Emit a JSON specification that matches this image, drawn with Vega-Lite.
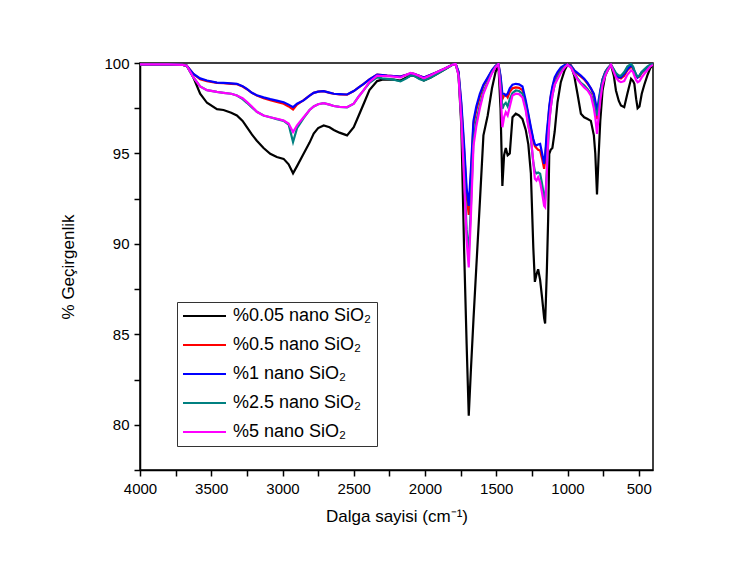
{
  "$schema": "https://vega.github.io/schema/vega-lite/v6.json",
  "width": 513,
  "height": 407,
  "autosize": "none",
  "padding": {"left": 140, "top": 63, "right": 89, "bottom": 93},
  "background": "white",
  "config": {
    "font": "Liberation Sans",
    "view": {"stroke": "black", "strokeWidth": 1.5},
    "axis": {"grid": false, "labelFlush": false, "labelOverlap": false, "domainColor": "black", "domainWidth": 1.5, "tickColor": "black", "tickWidth": 1.5, "tickSize": 6, "labelColor": "black", "labelFontSize": 15, "labelFont": "Liberation Sans", "titleFont": "Liberation Sans", "titleFontSize": 17, "titleFontWeight": "normal", "titleColor": "black"}
  },
  "data": {"values": [
    {"w":4000,"a":99.92,"b":99.92,"c":99.92,"d":99.92,"e":99.92},
    {"w":3800,"a":99.92,"b":99.92,"c":99.92,"d":99.92,"e":99.92},
    {"w":3700,"a":99.9,"b":99.9,"c":99.9,"d":99.9,"e":99.9},
    {"w":3672,"a":99.85,"b":99.85,"c":99.85,"d":99.85,"e":99.85},
    {"w":3625,"a":99.2,"b":99.4,"c":99.4,"d":99.2,"e":99.2},
    {"w":3578,"a":98.3,"b":99.1,"c":99.15,"d":98.7,"e":98.7},
    {"w":3530,"a":97.8,"b":99.0,"c":99.03,"d":98.5,"e":98.5},
    {"w":3460,"a":97.45,"b":98.9,"c":98.92,"d":98.4,"e":98.4},
    {"w":3414,"a":97.4,"b":98.88,"c":98.9,"d":98.35,"e":98.35},
    {"w":3360,"a":97.25,"b":98.85,"c":98.87,"d":98.3,"e":98.3},
    {"w":3320,"a":97.1,"b":98.83,"c":98.85,"d":98.2,"e":98.2},
    {"w":3280,"a":96.8,"b":98.7,"c":98.72,"d":98.0,"e":98.05},
    {"w":3250,"a":96.45,"b":98.55,"c":98.57,"d":97.8,"e":97.85},
    {"w":3215,"a":96.05,"b":98.35,"c":98.35,"d":97.55,"e":97.6},
    {"w":3180,"a":95.7,"b":98.2,"c":98.22,"d":97.3,"e":97.3},
    {"w":3133,"a":95.3,"b":98.05,"c":98.1,"d":97.1,"e":97.1},
    {"w":3086,"a":94.98,"b":97.95,"c":98.0,"d":97.0,"e":97.0},
    {"w":3040,"a":94.8,"b":97.85,"c":97.92,"d":96.9,"e":96.92},
    {"w":2992,"a":94.7,"b":97.75,"c":97.83,"d":96.8,"e":96.82},
    {"w":2957,"a":94.4,"b":97.6,"c":97.7,"d":96.6,"e":96.65},
    {"w":2926,"a":93.9,"b":97.43,"c":97.56,"d":95.63,"e":96.18},
    {"w":2898,"a":94.3,"b":97.7,"c":97.75,"d":96.4,"e":96.55},
    {"w":2852,"a":94.98,"b":97.95,"c":97.93,"d":96.95,"e":97.0},
    {"w":2810,"a":95.6,"b":98.2,"c":98.2,"d":97.4,"e":97.4},
    {"w":2781,"a":96.1,"b":98.35,"c":98.35,"d":97.6,"e":97.6},
    {"w":2750,"a":96.4,"b":98.42,"c":98.42,"d":97.72,"e":97.72},
    {"w":2711,"a":96.55,"b":98.44,"c":98.44,"d":97.78,"e":97.78},
    {"w":2670,"a":96.45,"b":98.35,"c":98.36,"d":97.7,"e":97.7},
    {"w":2640,"a":96.3,"b":98.3,"c":98.3,"d":97.62,"e":97.62},
    {"w":2600,"a":96.15,"b":98.27,"c":98.28,"d":97.57,"e":97.57},
    {"w":2547,"a":96.0,"b":98.25,"c":98.26,"d":97.55,"e":97.56},
    {"w":2500,"a":96.45,"b":98.45,"c":98.45,"d":97.75,"e":97.75},
    {"w":2465,"a":97.1,"b":98.65,"c":98.65,"d":98.15,"e":98.15},
    {"w":2430,"a":97.75,"b":98.85,"c":98.85,"d":98.5,"e":98.5},
    {"w":2390,"a":98.5,"b":99.1,"c":99.1,"d":98.9,"e":98.95},
    {"w":2336,"a":99.0,"b":99.36,"c":99.36,"d":99.2,"e":99.3},
    {"w":2300,"a":99.08,"b":99.33,"c":99.33,"d":99.15,"e":99.28},
    {"w":2265,"a":99.1,"b":99.3,"c":99.3,"d":99.12,"e":99.27},
    {"w":2220,"a":99.08,"b":99.28,"c":99.28,"d":99.08,"e":99.25},
    {"w":2172,"a":99.03,"b":99.25,"c":99.25,"d":98.98,"e":99.2},
    {"w":2130,"a":99.2,"b":99.35,"c":99.35,"d":99.15,"e":99.35},
    {"w":2101,"a":99.3,"b":99.42,"c":99.42,"d":99.3,"e":99.45},
    {"w":2078,"a":99.3,"b":99.4,"c":99.4,"d":99.3,"e":99.4},
    {"w":2040,"a":99.15,"b":99.3,"c":99.3,"d":99.12,"e":99.28},
    {"w":2008,"a":99.03,"b":99.2,"c":99.2,"d":99.03,"e":99.15},
    {"w":1960,"a":99.2,"b":99.35,"c":99.35,"d":99.2,"e":99.32},
    {"w":1914,"a":99.4,"b":99.5,"c":99.5,"d":99.4,"e":99.5},
    {"w":1860,"a":99.65,"b":99.7,"c":99.7,"d":99.65,"e":99.7},
    {"w":1808,"a":99.9,"b":99.9,"c":99.9,"d":99.9,"e":99.9},
    {"w":1785,"a":99.95,"b":99.95,"c":99.95,"d":99.95,"e":99.95},
    {"w":1765,"a":99.4,"b":99.5,"c":99.53,"d":99.36,"e":99.32},
    {"w":1745,"a":96.5,"b":97.6,"c":97.8,"d":97.0,"e":96.84},
    {"w":1725,"a":89.5,"b":95.1,"c":95.4,"d":93.85,"e":93.45},
    {"w":1708,"a":84.5,"b":92.7,"c":93.1,"d":90.8,"e":90.2},
    {"w":1693,"a":80.5,"b":91.6,"c":92.1,"d":89.4,"e":88.7},
    {"w":1678,"a":83.0,"b":93.7,"c":94.1,"d":92.05,"e":91.5},
    {"w":1660,"a":85.8,"b":96.6,"c":96.8,"d":95.7,"e":95.4},
    {"w":1640,"a":88.7,"b":97.4,"c":97.6,"d":96.8,"e":96.5},
    {"w":1615,"a":92.3,"b":98.15,"c":98.3,"d":97.67,"e":97.5},
    {"w":1590,"a":96.0,"b":98.74,"c":98.8,"d":98.4,"e":98.3},
    {"w":1560,"a":97.1,"b":99.16,"c":99.2,"d":98.94,"e":98.87},
    {"w":1530,"a":98.6,"b":99.58,"c":99.6,"d":99.47,"e":99.44},
    {"w":1505,"a":99.5,"b":99.83,"c":99.84,"d":99.79,"e":99.77},
    {"w":1485,"a":99.9,"b":99.95,"c":99.96,"d":99.95,"e":99.94},
    {"w":1470,"a":97.5,"b":99.2,"c":99.3,"d":98.9,"e":98.5},
    {"w":1457,"a":93.2,"b":98.0,"c":98.3,"d":97.47,"e":96.45},
    {"w":1445,"a":94.9,"b":98.2,"c":98.3,"d":97.7,"e":97.0},
    {"w":1433,"a":95.3,"b":98.25,"c":98.2,"d":97.8,"e":97.28},
    {"w":1420,"a":94.9,"b":98.1,"c":98.3,"d":97.6,"e":97.1},
    {"w":1405,"a":95.0,"b":98.4,"c":98.6,"d":98.0,"e":97.6},
    {"w":1386,"a":97.0,"b":98.6,"c":98.8,"d":98.35,"e":98.2},
    {"w":1363,"a":97.2,"b":98.65,"c":98.85,"d":98.48,"e":98.3},
    {"w":1340,"a":97.1,"b":98.63,"c":98.82,"d":98.45,"e":98.28},
    {"w":1316,"a":96.9,"b":98.5,"c":98.7,"d":98.3,"e":98.1},
    {"w":1293,"a":96.3,"b":97.8,"c":97.93,"d":97.5,"e":97.37},
    {"w":1275,"a":95.5,"b":97.1,"c":97.2,"d":96.6,"e":96.5},
    {"w":1257,"a":93.9,"b":96.35,"c":96.45,"d":95.8,"e":95.9},
    {"w":1240,"a":89.8,"b":95.7,"c":95.8,"d":94.5,"e":94.5},
    {"w":1229,"a":87.9,"b":95.4,"c":95.5,"d":94.0,"e":93.6},
    {"w":1218,"a":88.3,"b":95.3,"c":95.44,"d":93.9,"e":93.5},
    {"w":1206,"a":88.6,"b":95.2,"c":95.5,"d":93.95,"e":93.69},
    {"w":1192,"a":88.0,"b":95.16,"c":95.53,"d":93.88,"e":93.4},
    {"w":1178,"a":87.0,"b":94.7,"c":95.0,"d":93.3,"e":92.8},
    {"w":1164,"a":85.9,"b":94.15,"c":94.43,"d":92.6,"e":92.1},
    {"w":1157,"a":85.6,"b":94.6,"c":94.9,"d":92.4,"e":92.03},
    {"w":1145,"a":88.5,"b":96.0,"c":96.2,"d":94.0,"e":94.0},
    {"w":1136,"a":91.3,"b":96.7,"c":96.9,"d":95.5,"e":95.7},
    {"w":1128,"a":94.98,"b":97.5,"c":97.6,"d":96.8,"e":96.7},
    {"w":1118,"a":95.2,"b":98.1,"c":98.2,"d":97.5,"e":97.5},
    {"w":1106,"a":95.3,"b":98.6,"c":98.7,"d":98.2,"e":98.2},
    {"w":1090,"a":96.2,"b":99.1,"c":99.2,"d":98.8,"e":98.8},
    {"w":1070,"a":97.83,"b":99.4,"c":99.5,"d":99.2,"e":99.1},
    {"w":1047,"a":98.94,"b":99.7,"c":99.75,"d":99.55,"e":99.45},
    {"w":1020,"a":99.6,"b":99.85,"c":99.88,"d":99.8,"e":99.75},
    {"w":1000,"a":99.9,"b":99.9,"c":99.9,"d":99.9,"e":99.9},
    {"w":976,"a":99.86,"b":99.85,"c":99.85,"d":99.8,"e":99.75},
    {"w":953,"a":99.3,"b":99.6,"c":99.6,"d":99.45,"e":99.4},
    {"w":930,"a":98.3,"b":99.4,"c":99.45,"d":99.15,"e":99.1},
    {"w":906,"a":97.2,"b":99.25,"c":99.3,"d":98.9,"e":98.85},
    {"w":883,"a":97.0,"b":99.1,"c":99.13,"d":98.76,"e":98.65},
    {"w":859,"a":96.9,"b":98.85,"c":98.9,"d":98.55,"e":98.48},
    {"w":836,"a":96.8,"b":98.6,"c":98.6,"d":98.3,"e":98.2},
    {"w":815,"a":96.0,"b":98.2,"c":98.3,"d":97.8,"e":97.5},
    {"w":805,"a":95.0,"b":97.8,"c":97.9,"d":97.4,"e":97.0},
    {"w":793,"a":92.73,"b":96.9,"c":97.28,"d":97.1,"e":96.08},
    {"w":782,"a":94.8,"b":97.6,"c":97.9,"d":97.6,"e":97.0},
    {"w":770,"a":96.8,"b":98.4,"c":98.48,"d":98.3,"e":97.93},
    {"w":754,"a":98.48,"b":99.1,"c":99.1,"d":99.0,"e":98.8},
    {"w":735,"a":99.3,"b":99.5,"c":99.5,"d":99.45,"e":99.3},
    {"w":718,"a":99.6,"b":99.7,"c":99.7,"d":99.7,"e":99.6},
    {"w":695,"a":99.9,"b":99.9,"c":99.9,"d":99.9,"e":99.9},
    {"w":675,"a":99.3,"b":99.6,"c":99.6,"d":99.65,"e":99.5},
    {"w":660,"a":98.48,"b":99.35,"c":99.35,"d":99.45,"e":99.2},
    {"w":640,"a":97.9,"b":99.2,"c":99.2,"d":99.3,"e":99.0},
    {"w":625,"a":97.65,"b":99.15,"c":99.2,"d":99.3,"e":98.94},
    {"w":602,"a":97.56,"b":99.3,"c":99.4,"d":99.5,"e":99.0},
    {"w":580,"a":98.3,"b":99.6,"c":99.65,"d":99.8,"e":99.35},
    {"w":554,"a":99.13,"b":99.8,"c":99.86,"d":99.95,"e":99.6},
    {"w":540,"a":99.0,"b":99.7,"c":99.75,"d":99.8,"e":99.5},
    {"w":531,"a":98.85,"b":99.5,"c":99.55,"d":99.6,"e":99.3},
    {"w":518,"a":98.0,"b":99.3,"c":99.35,"d":99.35,"e":99.05},
    {"w":508,"a":97.5,"b":99.2,"c":99.2,"d":99.25,"e":98.94},
    {"w":495,"a":97.6,"b":99.25,"c":99.3,"d":99.3,"e":99.0},
    {"w":479,"a":98.3,"b":99.45,"c":99.5,"d":99.5,"e":99.2},
    {"w":461,"a":98.8,"b":99.6,"c":99.6,"d":99.65,"e":99.4},
    {"w":440,"a":99.3,"b":99.75,"c":99.78,"d":99.8,"e":99.6},
    {"w":420,"a":99.7,"b":99.85,"c":99.88,"d":99.9,"e":99.8},
    {"w":400,"a":99.9,"b":99.95,"c":99.95,"d":99.95,"e":99.9}
  ]},
  "transform": [{"fold": ["a", "b", "c", "d", "e"], "as": ["series", "value"]}],
  "mark": {"type": "line", "strokeWidth": 2.2, "clip": true},
  "encoding": {
    "x": {
      "field": "w", "type": "quantitative",
      "scale": {"domain": [4000, 400], "nice": false, "zero": false},
      "axis": {"title": "Dalga sayisi (cm⁻¹)", "values": [4000,3750,3500,3250,3000,2750,2500,2250,2000,1750,1500,1250,1000,750,500], "format": "d", "labelExpr": "datum.value % 500 === 0 ? datum.label : ''", "labelPadding": 5, "titlePadding": 12}
    },
    "y": {
      "field": "value", "type": "quantitative",
      "scale": {"domain": [77.5, 100], "nice": false, "zero": false},
      "axis": {"title": "% Geçirgenlik", "values": [77.5,80,82.5,85,87.5,90,92.5,95,97.5,100], "labelExpr": "datum.value % 5 === 0 ? format(datum.value, 'd') : ''", "labelPadding": 5, "titlePadding": 26}
    },
    "color": {
      "field": "series", "type": "nominal",
      "scale": {"domain": ["a", "b", "c", "d", "e"], "range": ["#000000", "#ff0000", "#0000ff", "#008080", "#ff00ff"]},
      "legend": {
        "title": null, "orient": "none", "legendX": 37, "legendY": 239,
        "strokeColor": "#333333", "padding": 5, "fillColor": "white",
        "symbolType": "stroke", "symbolSize": 1849, "symbolStrokeWidth": 2,
        "clipHeight": 18, "rowPadding": 11, "labelOffset": 6,
        "labelFontSize": 18, "labelFont": "Liberation Sans", "labelColor": "black",
        "labelExpr": "datum.value === 'a' ? '%0.05 nano SiO₂' : datum.value === 'b' ? '%0.5 nano SiO₂' : datum.value === 'c' ? '%1 nano SiO₂' : datum.value === 'd' ? '%2.5 nano SiO₂' : '%5 nano SiO₂'",
        "labelLimit": 300
      }
    }
  }
}
